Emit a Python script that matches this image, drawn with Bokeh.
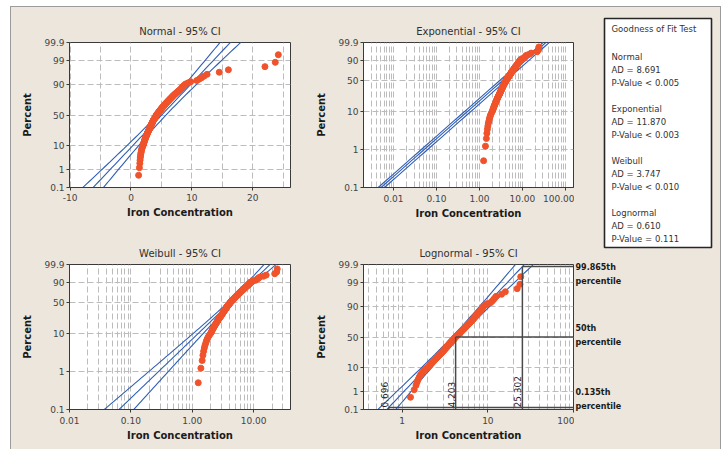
import math
from statistics import NormalDist
import numpy as np
from bokeh.plotting import figure
from bokeh.models import FixedTicker, Range1d, Spacer
from bokeh.layouts import row, column
from bokeh.embed import file_html
from bokeh.resources import INLINE
from bokeh.core.properties import value

# ---------------- data ----------------
iron = [
    1.25, 1.38, 1.45, 1.49, 1.53, 1.57, 1.61, 1.66, 1.70, 1.75, 1.80, 1.86, 1.93, 2.00,
    2.05, 2.09, 2.13, 2.18, 2.22, 2.26, 2.31, 2.35, 2.39, 2.43, 2.48, 2.52, 2.56, 2.60,
    2.64, 2.68, 2.72, 2.76, 2.81, 2.86, 2.90,
    2.93, 2.97, 3.01, 3.05, 3.08, 3.12, 3.16, 3.19, 3.23, 3.27, 3.31, 3.34, 3.38, 3.41,
    3.45, 3.48, 3.52, 3.55, 3.58, 3.62,
    3.66, 3.70, 3.74, 3.79, 3.83, 3.87, 3.92, 3.96, 4.00, 4.04, 4.08, 4.12, 4.16, 4.20,
    4.25, 4.30, 4.36, 4.41, 4.47, 4.52, 4.58, 4.63, 4.68, 4.74, 4.80, 4.85, 4.90,
    4.96, 5.02, 5.08, 5.15, 5.21, 5.27, 5.34, 5.40, 5.46, 5.53, 5.60, 5.66, 5.73, 5.80,
    5.88, 5.96, 6.04, 6.12, 6.20, 6.28, 6.36, 6.45, 6.54, 6.63, 6.72, 6.81, 6.90, 7.00,
    7.10, 7.22, 7.34, 7.46, 7.58, 7.72, 7.86, 8.00, 8.14, 8.26, 8.38, 8.50, 8.64, 8.80,
    9.00, 9.40, 9.80, 10.8, 11.2, 11.6, 12.0, 12.5,
    14.5, 16.0, 22.0, 23.7, 24.2,
]

pct_ticks_7 = [0.1, 1, 10, 50, 90, 99, 99.9]
pct_labels_7 = ["0.1", "1", "10", "50", "90", "99", "99.9"]
pct_ticks_6 = [0.1, 1, 10, 50, 90, 99.9]
pct_labels_6 = ["0.1", "1", "10", "50", "90", "99.9"]

normal_xticks = [-10, 0, 10, 20]
normal_xlabels = ["-10", "0", "10", "20"]
normal_xgrid = [-10, -5, 0, 5, 10, 15, 20, 25]
exp_xticks = [0.01, 0.1, 1, 10, 100]
exp_xlabels = ["0.01", "0.10", "1.00", "10.00", "100.00"]
weib_xticks = [0.01, 0.1, 1, 10]
weib_xlabels = ["0.01", "0.10", "1.00", "10.00"]
logn_xticks = [1, 10, 100]
logn_xlabels = ["1", "10", "100"]

# fitted parameters
normal_mu, normal_sigma = 5.05, 3.645
exp_theta, exp_ci_lo, exp_ci_hi = 5.1, 0.857, 1.201
weib_shape, weib_scale = 1.56, 5.36
logn_pct_names = ["0.135th", "50th", "99.865th"]
logn_pct_levels = [0.135, 50, 99.865]
logn_pct_values = [0.696, 4.203, 25.302]

gof_names = ["Normal", "Exponential", "Weibull", "Lognormal"]
gof_ad = ["8.691", "11.870", "3.747", "0.610"]
gof_p = ["< 0.005", "< 0.003", "< 0.010", "= 0.111"]

# ---------------- styling ----------------
BEIGE = "#ece6dc"
GRID = "#bcbcbc"
AXIS = "#3a3a3a"
BLUE = "#2f5eb5"
ORANGE = "#f0532b"
BORDER = "#9c9c9c"
FONT = "DejaVu Sans"

ND = NormalDist()


def zt(pct):
    return ND.inv_cdf(pct / 100.0)


def wt(pct):
    return math.log(-math.log(1 - pct / 100.0))


n = len(iron)
xs = sorted(iron)
pp = [(i + 1 - 0.3) / (n + 0.4) * 100 for i in range(n)]
lx = [math.log10(v) for v in xs]
LN10 = math.log(10)


def log_minor(lo, hi):
    out = []
    for d in range(-4, 4):
        for k in range(2, 10):
            v = math.log10(k * 10.0 ** d)
            if lo < v < hi:
                out.append(v)
    return out


def base_fig(w, h, xr, yr, bl, br, bt, bb, title):
    p = figure(width=w, height=h, x_range=Range1d(*xr), y_range=Range1d(*yr),
               output_backend="svg", toolbar_location=None,
               min_border_left=bl, min_border_right=br, min_border_top=bt, min_border_bottom=bb,
               background_fill_color="white", border_fill_color=BEIGE,
               outline_line_color=AXIS, outline_line_width=1,
               styles={"background-color": BEIGE})
    p.title.text = title
    p.title.align = "center"
    p.title.text_font = FONT
    p.title.text_font_size = "10px"
    p.title.text_font_style = "normal"
    p.title.text_color = "#303030"
    p.title.standoff = 12
    for ax in (p.xaxis[0], p.yaxis[0]):
        ax.axis_line_color = AXIS
        ax.major_tick_line_color = AXIS
        ax.major_tick_out = 3
        ax.major_tick_in = 0
        ax.minor_tick_line_color = None
        ax.major_label_text_font = FONT
        ax.major_label_text_font_size = "9px"
        ax.major_label_text_color = "#444444"
        ax.axis_label_text_font = FONT
        ax.axis_label_text_font_size = "10px"
        ax.axis_label_text_font_style = "bold"
        ax.axis_label_text_color = "#1a1a1a"
    p.xaxis.axis_label = "Iron Concentration"
    p.yaxis.axis_label = "Percent"
    p.xaxis.major_label_standoff = 3
    p.xaxis.axis_label_standoff = 3
    p.yaxis.major_label_standoff = 2
    p.yaxis.axis_label_standoff = 8
    for g in (p.xgrid[0], p.ygrid[0]):
        g.grid_line_color = GRID
        g.grid_line_dash = "6 3"
        g.grid_line_width = 1
    return p


def set_y(p, ticks_pct, labels, tf):
    yt = [float(tf(v)) for v in ticks_pct]
    p.yaxis.ticker = FixedTicker(ticks=yt, minor_ticks=[])
    p.yaxis.major_label_overrides = dict(zip(yt, labels))


def set_x_log(p, ticks, labels, lo, hi):
    xt = [float(math.log10(v)) for v in ticks]
    p.xaxis.ticker = FixedTicker(ticks=xt, minor_ticks=log_minor(lo, hi))
    p.xaxis.major_label_overrides = dict(zip(xt, labels))
    p.xgrid.minor_grid_line_color = GRID
    p.xgrid.minor_grid_line_dash = "6 3"


def fit_lines(p, xs_list, ys):
    for xline in xs_list:
        p.line(xline, ys, line_color=BLUE, line_width=1.1)


Z_LO, Z_HI = zt(0.1), zt(99.9)
W_LO, W_HI = wt(0.1), wt(99.9)

# ---------------- Normal ----------------
p_norm = base_fig(290, 219, (-10.1, 26.2), (Z_LO, Z_HI), 58, 11, 35, 39, "Normal - 95% CI")
p_norm.xaxis.ticker = FixedTicker(ticks=normal_xticks, minor_ticks=[])
p_norm.xaxis.major_label_overrides = dict(zip(normal_xticks, normal_xlabels))
p_norm.xgrid.ticker = FixedTicker(ticks=normal_xgrid)
set_y(p_norm, pct_ticks_7, pct_labels_7, zt)
zz = np.linspace(-3.4, 3.4, 60)
half = 1.96 * normal_sigma * np.sqrt((1 + zz ** 2 / 2) / (n * 0.75))
mid = normal_mu + zz * normal_sigma
fit_lines(p_norm, [mid - half, mid, mid + half], zz)
p_norm.scatter(xs, [zt(v) for v in pp], size=6, fill_color=ORANGE, line_color=ORANGE)

# ---------------- Exponential ----------------
EX_LO, EX_HI = -2.70, 2.19
p_exp = base_fig(273, 219, (EX_LO, EX_HI), (W_LO, W_HI), 62, 1, 35, 39, "Exponential - 95% CI")
set_x_log(p_exp, exp_xticks, exp_xlabels, EX_LO, EX_HI)
set_y(p_exp, pct_ticks_6, pct_labels_6, wt)
ww = np.linspace(W_LO - 0.3, W_HI + 0.3, 40)
fit_lines(p_exp, [math.log10(exp_theta * f) + ww / LN10 for f in (exp_ci_lo, 1.0, exp_ci_hi)], ww)
p_exp.scatter(lx, [wt(v) for v in pp], size=6, fill_color=ORANGE, line_color=ORANGE)

# ---------------- Weibull ----------------
WB_LO, WB_HI = -2.0, 1.6
p_weib = base_fig(290, 223, (WB_LO, WB_HI), (W_LO, W_HI), 58, 11, 38, 40, "Weibull - 95% CI")
set_x_log(p_weib, weib_xticks, weib_xlabels, WB_LO, WB_HI)
set_y(p_weib, pct_ticks_6, pct_labels_6, wt)
b = 1.0 / weib_shape
u = math.log(weib_scale)
ww = np.linspace(W_LO - 0.3, W_HI + 0.3, 60)
mid_ln = u + ww * b
se = np.sqrt(b * b / n * (1.1087 + 2 * 0.2570 * ww + 0.6079 * ww ** 2))
fit_lines(p_weib, [(mid_ln - 1.96 * se) / LN10, mid_ln / LN10, (mid_ln + 1.96 * se) / LN10], ww)
p_weib.scatter(lx, [wt(v) for v in pp], size=6, fill_color=ORANGE, line_color=ORANGE)

# ---------------- Lognormal ----------------
LG_LO, LG_HI = -0.452, 2.0
p_logn = base_fig(273, 223, (LG_LO, LG_HI), (Z_LO, Z_HI), 62, 1, 38, 40, "Lognormal - 95% CI")
set_x_log(p_logn, logn_xticks, logn_xlabels, LG_LO, LG_HI)
set_y(p_logn, pct_ticks_7, pct_labels_7, zt)
m = math.log10(logn_pct_values[1])
s = (math.log10(logn_pct_values[2]) - m) / zt(logn_pct_levels[2])
zz = np.linspace(-3.4, 3.4, 60)
half = 1.96 * s * np.sqrt((1 + zz ** 2 / 2) / n)
mid = m + zz * s
fit_lines(p_logn, [mid - half, mid, mid + half], zz)
p_logn.scatter(lx, [zt(v) for v in pp], size=6, fill_color=ORANGE, line_color=ORANGE)
ref_x = [math.log10(v) for v in logn_pct_values]
ref_y = [zt(v) for v in logn_pct_levels]
p_logn.segment(x0=ref_x, y0=[Z_LO] * 3, x1=ref_x, y1=ref_y, line_color="#4a4a4a", line_width=1.5)
p_logn.segment(x0=ref_x, y0=ref_y, x1=[LG_HI] * 3, y1=ref_y, line_color="#4a4a4a", line_width=1.5)
p_logn.text(x=ref_x, y=[Z_LO] * 3, text=[f"{v:.3f}" for v in logn_pct_values], angle=math.pi / 2,
            text_align="left", text_baseline="bottom", x_offset=-1, y_offset=-2,
            text_font=value(FONT), text_font_size="9px", text_color="#222222")

# ---------------- right side: goodness of fit box + percentile labels ----------------
RW, RH = 146, 442
p_r = figure(width=RW, height=RH, x_range=Range1d(0, RW), y_range=Range1d(0, RH),
             x_axis_location=None, y_axis_location=None, output_backend="svg",
             toolbar_location=None, min_border=0, outline_line_color=None,
             background_fill_color=BEIGE, border_fill_color=BEIGE,
             styles={"background-color": BEIGE})
p_r.xgrid.visible = False
p_r.ygrid.visible = False
p_r.quad(left=30, right=137, top=RH - 11, bottom=RH - 240, fill_color="white",
         line_color="#262626", line_width=1.6)
lines = ["Goodness of Fit Test"]
for nm, ad, pv in zip(gof_names, gof_ad, gof_p):
    lines += [nm, f"AD = {ad}", f"P-Value {pv}"]
line_y = [28]
for g in range(4):
    start = 56 + 52 * g
    line_y += [start, start + 13, start + 26]
p_r.text(x=[37] * len(lines), y=[449 - v for v in line_y], text=lines,
         text_baseline="middle", text_align="left", text_font=value(FONT),
         text_font_size="8.5px", text_color="#333333")
plabels = []
for nm in reversed(logn_pct_names):
    plabels += [nm, "percentile"]
plabel_y = [266.5, 280.5, 327.5, 341.5, 391.5, 405.5]
p_r.text(x=[1] * 6, y=[449 - v for v in plabel_y], text=plabels, text_baseline="middle",
         text_align="left", text_font=value(FONT), text_font_size="8px",
         text_font_style="bold", text_color="#1a1a1a")

# ---------------- layout ----------------
grey = {"background-color": BORDER}
bg = {"background-color": BEIGE}
left_col = column(p_norm, p_weib, spacing=0, styles=bg)
mid_col = column(p_exp, p_logn, spacing=0, styles=bg)
inner = row(Spacer(width=1, height=442, styles=grey), left_col, mid_col, p_r,
            Spacer(width=1, height=442, styles=grey), spacing=0, styles=bg)
body = column(Spacer(width=711, height=1, styles=grey), inner, spacing=0)
layout = column(Spacer(width=727, height=6), row(Spacer(width=10, height=443), body, spacing=0),
                spacing=0)

open("out.html", "w").write(file_html(layout, INLINE))
